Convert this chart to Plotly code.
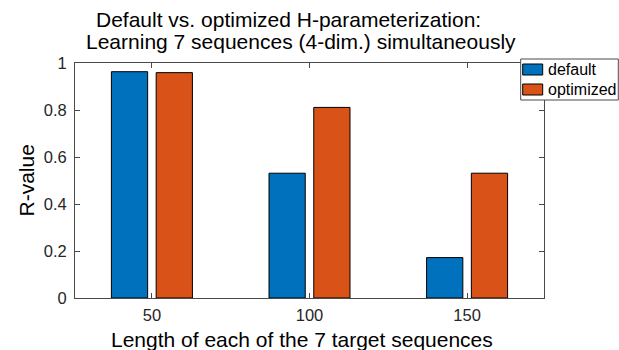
import plotly.graph_objects as go

# Sequence lengths and R-values for the two H-parameterizations
lengths = [50, 100, 150]
r_default = [0.963, 0.531, 0.172]
r_optimized = [0.959, 0.811, 0.531]
series_names = ["default", "optimized"]
y_ticks = [0, 0.2, 0.4, 0.6, 0.8, 1]

BLUE = "#0072BD"
ORANGE = "#D95319"
AXIS = "#4a4a4a"
FONT = "Liberation Sans, Arial, sans-serif"

W, H = 619, 350
L, R, T, B = 75, 75, 63, 52
PW, PH = W - L - R, H - T - B


def px(x):
    return (x - L) / PW


def py(y):
    return (H - B - y) / PH


bar_w = 11.5
fig = go.Figure()
fig.add_trace(go.Bar(x=lengths, y=r_default, name=series_names[0], width=bar_w,
                     offset=-12.85, marker=dict(color=BLUE, line=dict(color="black", width=1)),
                     showlegend=False))
fig.add_trace(go.Bar(x=lengths, y=r_optimized, name=series_names[1], width=bar_w,
                     offset=1.35, marker=dict(color=ORANGE, line=dict(color="black", width=1)),
                     showlegend=False))

fig.update_layout(
    width=W, height=H,
    margin=dict(l=L, r=R, t=T, b=B),
    paper_bgcolor="white", plot_bgcolor="white",
    font=dict(family=FONT, color="#262626", size=16.5),
    barmode="overlay",
    showlegend=False,
)
fig.update_xaxes(range=[25.6, 174.4], tickvals=lengths, ticks="inside", ticklen=5,
                 tickcolor=AXIS, showline=True, linecolor=AXIS, linewidth=1,
                 mirror="ticks", showgrid=False, zeroline=False, ticklabelstandoff=2,
                 tickfont=dict(size=16.5, color="#262626"))
fig.update_yaxes(range=[0, 1], tickvals=y_ticks, ticks="inside", ticklen=5,
                 tickcolor=AXIS, showline=True, linecolor=AXIS, linewidth=1,
                 mirror="ticks", showgrid=False, zeroline=False, ticklabelstandoff=4,
                 tickfont=dict(size=16.5, color="#262626"))

annotations = [
    dict(text="Default vs. optimized H-parameterization:", x=px(288), y=py(19.5)),
    dict(text="Learning 7 sequences (4-dim.) simultaneously", x=px(301), y=py(41)),
    dict(text="Length of each of the 7 target sequences", x=px(302), y=py(339)),
]
for a in annotations:
    fig.add_annotation(xref="paper", yref="paper", xanchor="center", yanchor="middle",
                       showarrow=False, font=dict(size=21, color="black", family=FONT), **a)
fig.add_annotation(text="R-value", xref="paper", yref="paper", x=px(26), y=py(180.5),
                   xanchor="center", yanchor="middle", textangle=-90, showarrow=False,
                   font=dict(size=21, color="black", family=FONT))

# Legend box with swatches
shapes = [dict(type="rect", xref="paper", yref="paper", x0=px(520.7), x1=px(618.3),
               y0=py(100), y1=py(59), line=dict(color=AXIS, width=1), fillcolor="white",
               layer="above")]
for i, (name, col) in enumerate(zip(series_names, [BLUE, ORANGE])):
    cy = 69.5 + 20 * i
    shapes.append(dict(type="rect", xref="paper", yref="paper", x0=px(522.7), x1=px(542.7),
                       y0=py(cy + 5.5), y1=py(cy - 5.5), line=dict(color="black", width=1),
                       fillcolor=col, layer="above"))
    fig.add_annotation(text=name, xref="paper", yref="paper", x=px(546), y=py(cy),
                       xanchor="left", yanchor="middle", showarrow=False,
                       font=dict(size=16, color="black", family=FONT))
fig.update_layout(shapes=shapes)

fig.write_html("out.html")
